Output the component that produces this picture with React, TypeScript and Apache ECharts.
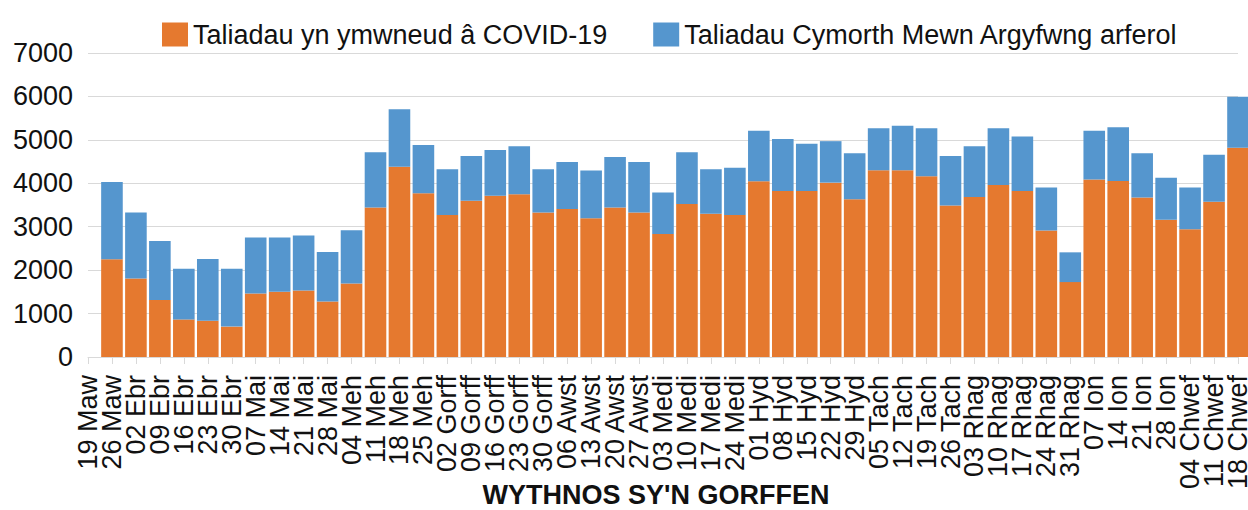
import React, { useEffect, useRef } from "react";
import * as echarts from "echarts";

const categories = [
  "19 Maw", "26 Maw", "02 Ebr", "09 Ebr", "16 Ebr", "23 Ebr", "30 Ebr", "07 Mai", "14 Mai", "21 Mai",
  "28 Mai", "04 Meh", "11 Meh", "18 Meh", "25 Meh", "02 Gorff", "09 Gorff", "16 Gorff", "23 Gorff", "30 Gorff",
  "06 Awst", "13 Awst", "20 Awst", "27 Awst", "03 Medi", "10 Medi", "17 Medi", "24 Medi", "01 Hyd", "08 Hyd",
  "15 Hyd", "22 Hyd", "29 Hyd", "05 Tach", "12 Tach", "19 Tach", "26 Tach", "03 Rhag", "10 Rhag", "17 Rhag",
  "24 Rhag", "31 Rhag", "07 Ion", "14 Ion", "21 Ion", "28 Ion", "04 Chwef", "11 Chwef", "18 Chwef",
];

const covidPayments = [
  null, 2250, 1810, 1310, 865, 835, 700, 1465, 1505, 1530,
  1280, 1695, 3440, 4380, 3770, 3270, 3600, 3715, 3745, 3330,
  3410, 3195, 3440, 3330, 2830, 3525, 3300, 3270, 4045, 3820,
  3820, 4015, 3630, 4300, 4300, 4160, 3490, 3685, 3960, 3820,
  2910, 1725, 4085, 4050, 3670, 3160, 2940, 3575, 4820,
];

const regularPayments = [
  null, 1780, 1520, 1360, 1165, 1420, 1330, 1285, 1245, 1270,
  1140, 1225, 1275, 1325, 1110, 1055, 1030, 1050, 1110, 995,
  1080, 1100, 1165, 1160, 960, 1190, 1025, 1085, 1165, 1200,
  1090, 955, 1060, 970, 1025, 1110, 1140, 1170, 1310, 1255,
  995, 685, 1125, 1240, 1020, 970, 965, 1080, 1170,
];

const seriesNames = ["Taliadau yn ymwneud â COVID-19", "Taliadau Cymorth Mewn Argyfwng arferol"];
const axisTitle = "WYTHNOS SY'N GORFFEN";

const FONT = "'Liberation Sans', Arial, sans-serif";
const ORANGE = "#E5792F";
const BLUE = "#5596CE";
const GRID = "#D9D9D9";

export default function App() {
  const ref = useRef<HTMLDivElement>(null);

  useEffect(() => {
    if (!ref.current) return;
    const chart = echarts.init(ref.current, undefined, { renderer: "svg" });
    chart.setOption({
      animation: false,
      backgroundColor: "#ffffff",
      textStyle: { fontFamily: FONT },
      legend: {
        data: seriesNames,
        left: 157,
        top: 16,
        icon: "rect",
        itemWidth: 26,
        itemHeight: 24,
        itemGap: 46,
        textStyle: { fontSize: 27, color: "#111", fontFamily: FONT },
      },
      grid: {
        left: 88,
        right: 10,
        top: 53,
        bottom: 153,
        containLabel: false,
        outerBoundsMode: "none",
      },
      xAxis: {
        type: "category",
        data: categories,
        boundaryGap: false,
        axisLine: { lineStyle: { color: GRID, width: 1 } },
        axisTick: { show: true, length: 7, interval: 0, lineStyle: { color: GRID } },
        axisLabel: {
          interval: 0,
          rotate: 90,
          fontSize: 27,
          color: "#111",
          margin: 18,
          fontFamily: FONT,
          hideOverlap: false,
        },
        name: axisTitle,
        nameLocation: "middle",
        nameGap: 124,
        nameMoveOverlap: false,
        nameTextStyle: {
          fontSize: 27,
          fontWeight: "bold",
          color: "#111",
          fontFamily: FONT,
          padding: [0, 14, 0, 0],
        },
      },
      yAxis: {
        type: "value",
        min: 0,
        max: 7000,
        interval: 1000,
        axisLine: { show: false },
        axisTick: { show: false },
        splitLine: { lineStyle: { color: GRID, width: 1 } },
        axisLabel: {
          fontSize: 27,
          color: "#111",
          margin: 15,
          fontFamily: FONT,
          formatter: (v: number) => String(v),
        },
      },
      series: [
        {
          name: seriesNames[0],
          type: "bar",
          stack: "total",
          data: covidPayments,
          barWidth: 21.6,
          clip: false,
          itemStyle: { color: ORANGE },
        },
        {
          name: seriesNames[1],
          type: "bar",
          stack: "total",
          data: regularPayments,
          barWidth: 21.6,
          clip: false,
          itemStyle: { color: BLUE },
        },
      ],
    });
    return () => chart.dispose();
  }, []);

  return (
    <div
      ref={ref}
      style={{ position: "absolute", left: 0, top: 0, width: 1248, height: 510, background: "#fff" }}
    />
  );
}
